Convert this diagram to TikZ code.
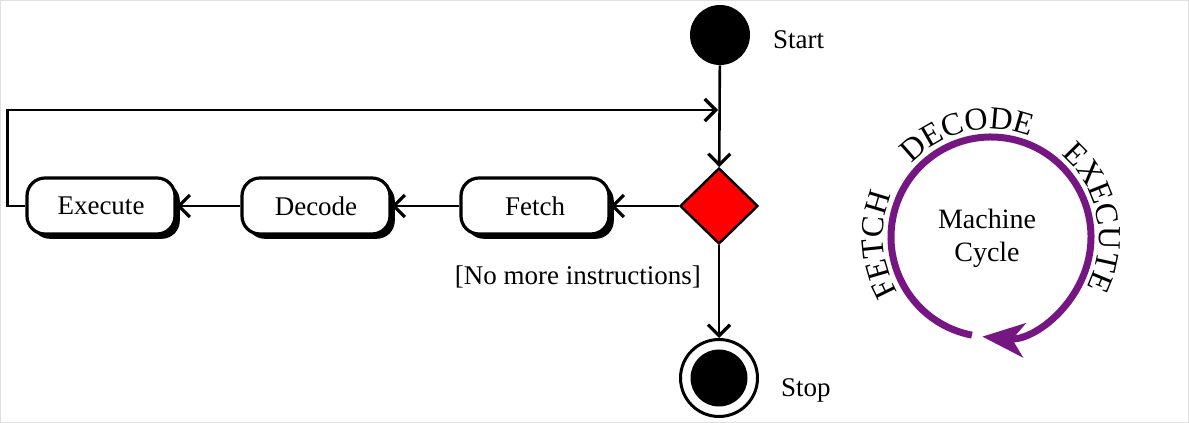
\documentclass[tikz,border=0pt]{standalone}
\usepackage{fontspec}
\setmainfont{Liberation Serif}
\usetikzlibrary{shapes.geometric,arrows.meta,shadows,decorations.text}
\definecolor{cyclepurple}{RGB}{118,22,130}

\begin{document}
\begin{tikzpicture}[x=0.5pt,y=0.5pt,
  font=\fontsize{13.5}{16}\selectfont,
  action/.style={draw, line width=1.6pt, rounded corners=9pt, fill=white,
    minimum width=74pt, minimum height=28pt,
    drop shadow={shadow xshift=2.4pt, shadow yshift=-2.4pt, fill=black, opacity=1}},
  flow/.style={line width=1.3pt, -{Straight Barb[length=5.5pt,width=11pt,line width=1.6pt]}},
  arclabel/.style={decorate, decoration={text along path, text align=center,
    text={|\fontsize{16}{19}\selectfont|#1}}}]
  \fill[white] (0,0) rectangle (1189,423);
  \draw[black!12] (0.5,0.5) rectangle (1188.5,422.5);
  % activity part
  \node (start) [circle, fill=black, minimum size=30pt, inner sep=0] at (720,388) {};
  \node (startlabel) [anchor=west] at (766,383) {Start};
  \node (choice) [diamond, draw, line width=1.2pt, fill=red, minimum width=39pt,
    minimum height=38pt, inner sep=0, aspect=1] at (719,217) {};
  \node (fetch) [action] at (535,217) {Fetch};
  \node (decode) [action] at (316,217) {Decode};
  \node (execute) [action] at (101,217) {Execute};
  \node (stop) [circle, draw, line width=1.5pt, fill=white, minimum size=38.5pt,
    inner sep=0] at (719,45) {};
  \node (stopdot) [circle, fill=black, minimum size=28.5pt, inner sep=0] at (stop) {};
  \node (stoplabel) [anchor=west] at (774,33) {Stop};
  \node (guard) [anchor=east] at (708,146) {[No more instructions]};
  \coordinate (join) at (718,313);
  \draw[flow] (start) -- (choice);
  \draw[flow] (choice) -- (fetch);
  \draw[flow] (fetch) -- (decode);
  \draw[flow] (decode) -- (execute);
  \draw[flow] (choice) -- (stop);
  \draw[flow] (execute.west) -- ++(-18,0) |- (join);
  % machine cycle
  \coordinate (hub) at (991,186);
  \draw[cyclepurple, line width=3.5pt, -{Stealth[length=21pt,width=17pt,inset=6pt]}]
    ([shift={(259:100)}]hub) arc[start angle=259, end angle=-95, radius=100];
  \path[arclabel=FETCH] ([shift={(224:108)}]hub) arc[start angle=224, end angle=144, radius=108];
  \path[arclabel=DECODE] ([shift={(143:108)}]hub) arc[start angle=143, end angle=63, radius=108];
  \path[arclabel=EXECUTE] ([shift={(51:108)}]hub) arc[start angle=51, end angle=-29, radius=108];
  \node (cycle) [align=center, font=\fontsize{14}{16.5}\selectfont] at (987,185) {Machine\\Cycle};
\end{tikzpicture}
\end{document}
